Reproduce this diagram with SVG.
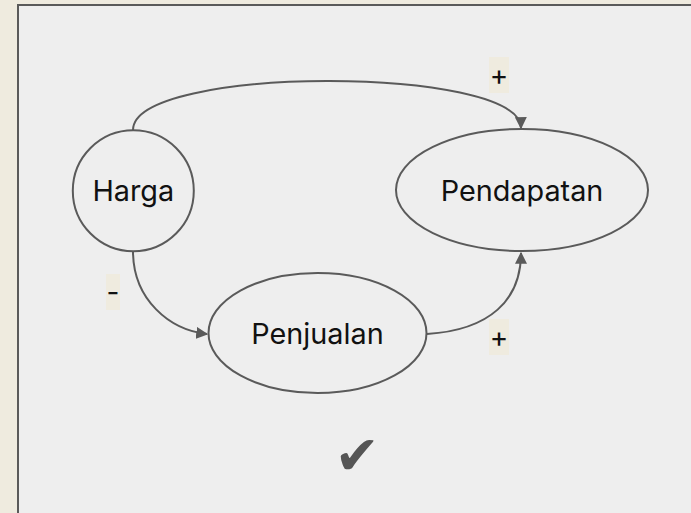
<svg xmlns="http://www.w3.org/2000/svg" width="691" height="513" viewBox="0 0 691 513">
<defs>
<style>
.node{fill:#eeeeee;stroke:#5a5a5a;stroke-width:2}
.nt{font-family:Inter,"Liberation Sans",sans-serif;font-size:28.8px;fill:#111;text-anchor:middle}
.edge{fill:none;stroke:#5a5a5a;stroke-width:2}
.lb{fill:#efebdf}
.lt{font-family:Inter,"Liberation Sans",sans-serif;font-size:28px;fill:#111;text-anchor:middle}
</style>
<marker id="arr" viewBox="0 0 10 10" refX="9" refY="5" markerWidth="6" markerHeight="6" orient="auto" markerUnits="strokeWidth">
<path d="M0,0 L10,5 L0,10 z" fill="#5a5a5a"/>
</marker>
</defs>
<rect x="0" y="0" width="691" height="513" fill="#efebdf"/>
<rect x="18" y="5" width="690" height="520" fill="#eeeeee" stroke="#5a5a5a" stroke-width="2"/>
<g id="connectors">
<path class="edge" d="M133,130 C133,65 520,65 521,128" marker-end="url(#arr)"/>
<path class="edge" d="M133,251 C133,300 170,330 207,334" marker-end="url(#arr)"/>
<path class="edge" d="M427,334 C490,330 521,300 521,253" marker-end="url(#arr)"/>
<g id="label-1"><rect class="lb" x="489" y="57" width="20" height="36"/><text class="lt" x="499" y="85">+</text></g>
<g id="label-2"><rect class="lb" x="106" y="274" width="14" height="36"/><text class="lt" x="113" y="302">-</text></g>
<g id="label-3"><rect class="lb" x="489" y="319" width="20" height="36"/><text class="lt" x="499" y="347">+</text></g>
</g>
<g id="node-harga"><circle class="node" cx="133.3" cy="190.7" r="60.5"/><text class="nt" x="133.3" y="201">Harga</text></g>
<g id="node-pendapatan"><ellipse class="node" cx="522" cy="190" rx="126" ry="61"/><text class="nt" x="522" y="201">Pendapatan</text></g>
<g id="node-penjualan"><ellipse class="node" cx="317.5" cy="333" rx="109" ry="60"/><text class="nt" x="317.5" y="344">Penjualan</text></g>
<text x="357" y="474" font-family="DejaVu Sans,sans-serif" font-size="54" fill="#555" text-anchor="middle">✔</text>
</svg>
